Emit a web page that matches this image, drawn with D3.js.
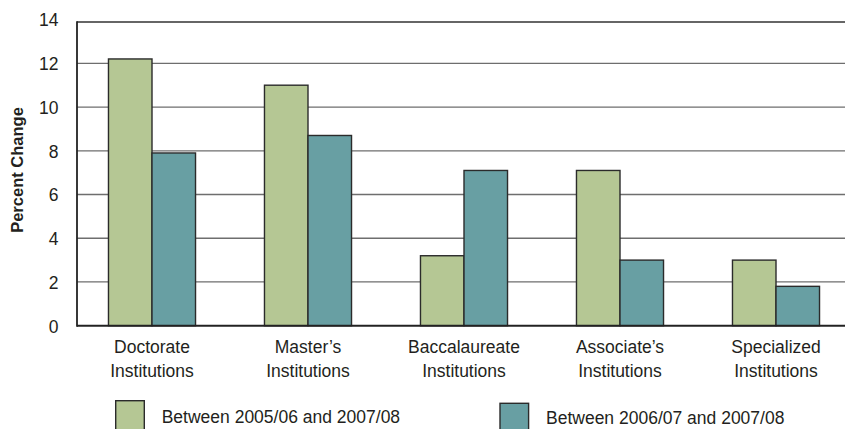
<!DOCTYPE html>
<html>
<head>
<meta charset="utf-8">
<script src="https://cdn.jsdelivr.net/npm/d3@7"></script>
<style>
  html, body { margin: 0; padding: 0; background: #fff; }
  svg { display: block; }
  text { font-family: "Liberation Sans", Arial, sans-serif; fill: #231f20; }
</style>
</head>
<body>
<svg id="chart" width="845" height="429"></svg>
<script>
const categories = [
  ["Doctorate", "Institutions"],
  ["Master\u2019s", "Institutions"],
  ["Baccalaureate", "Institutions"],
  ["Associate\u2019s", "Institutions"],
  ["Specialized", "Institutions"]
];
const seriesNames = ["Between 2005/06 and 2007/08", "Between 2006/07 and 2007/08"];
const series1 = [12.2, 11.0, 3.2, 7.1, 3.0];
const series2 = [7.9, 8.7, 7.1, 3.0, 1.8];
const yTicks = [0, 2, 4, 6, 8, 10, 12, 14];
const colors = ["#b5c794", "#689fa3"];

const svg = d3.select("#chart");
const W = 845;
const left = 77, frameTop = 22, bottom = 325.7;

const catKeys = categories.map((c, i) => i);
const x = d3.scaleBand().domain(catKeys).range([74, 854]).paddingInner(0.442).paddingOuter(0.221);
const x1 = d3.scaleBand().domain([0, 1]).range([0, x.bandwidth()]);
const y = d3.scaleLinear().domain([0, 14]).range([bottom, 19.6]);

// gridlines
svg.append("g").selectAll("line").data(yTicks.filter(t => t > 0 && t < 14)).join("line")
  .attr("x1", left).attr("x2", W)
  .attr("y1", d => y(d)).attr("y2", d => y(d))
  .attr("stroke", "#6e6e6e").attr("stroke-width", 1.3);

// top frame line
svg.append("line").attr("x1", left).attr("x2", W).attr("y1", frameTop).attr("y2", frameTop)
  .attr("stroke", "#333").attr("stroke-width", 1.6);

// bars
const data = catKeys.map(i => [series1[i], series2[i]]);
const groups = svg.append("g").selectAll("g").data(data).join("g")
  .attr("transform", (d, i) => `translate(${x(i)},0)`);
groups.selectAll("rect").data(d => d.map((v, k) => ({v, k}))).join("rect")
  .attr("x", d => x1(d.k))
  .attr("width", x1.bandwidth())
  .attr("y", d => y(d.v))
  .attr("height", d => bottom - y(d.v))
  .attr("fill", d => colors[d.k])
  .attr("stroke", "#2b2b2b").attr("stroke-width", 1.4);

// axes lines
svg.append("line").attr("x1", left).attr("x2", left).attr("y1", frameTop - 0.8).attr("y2", bottom + 1)
  .attr("stroke", "#222").attr("stroke-width", 1.8);
svg.append("line").attr("x1", left).attr("x2", W).attr("y1", bottom).attr("y2", bottom)
  .attr("stroke", "#222").attr("stroke-width", 2);

// y tick labels via axis
const yAxis = d3.axisLeft(y).tickValues(yTicks).tickSize(0).tickPadding(0).tickFormat(d3.format("d"));
const ya = svg.append("g").attr("transform", "translate(58.5,0)").call(yAxis);
ya.select(".domain").remove();
ya.selectAll("text").attr("font-size", "17.5px").attr("font-family", "Liberation Sans, Arial, sans-serif")
  .attr("fill", "#231f20").attr("dy", "0.36em");

// category labels
const cl = svg.append("g").selectAll("text").data(categories).join("text")
  .attr("x", (d, i) => x(i) + x.bandwidth() / 2)
  .attr("y", 352.5)
  .attr("text-anchor", "middle")
  .attr("font-size", "17.5px");
cl.selectAll("tspan").data(d => d).join("tspan")
  .attr("x", function () { return d3.select(this.parentNode).attr("x"); })
  .attr("dy", (d, i) => i === 0 ? 0 : 24)
  .text(d => d);

// y title
svg.append("text")
  .attr("transform", "translate(23,170) rotate(-90)")
  .attr("text-anchor", "middle")
  .attr("font-size", "16.5px").attr("font-weight", "bold")
  .text("Percent Change");

// legend
const legendX = [115.7, 500];
const legendTop = [400.7, 403.3];
const lg = svg.append("g").selectAll("g").data(seriesNames).join("g");
lg.append("rect")
  .attr("x", (d, i) => legendX[i]).attr("y", (d, i) => legendTop[i])
  .attr("width", 28.6).attr("height", 29)
  .attr("fill", (d, i) => colors[i])
  .attr("stroke", "#2b2b2b").attr("stroke-width", 1.4);
lg.append("text")
  .attr("x", (d, i) => legendX[i] + 46)
  .attr("y", (d, i) => 422.5 + i)
  .attr("font-size", "17.5px")
  .text(d => d);
</script>
</body>
</html>
